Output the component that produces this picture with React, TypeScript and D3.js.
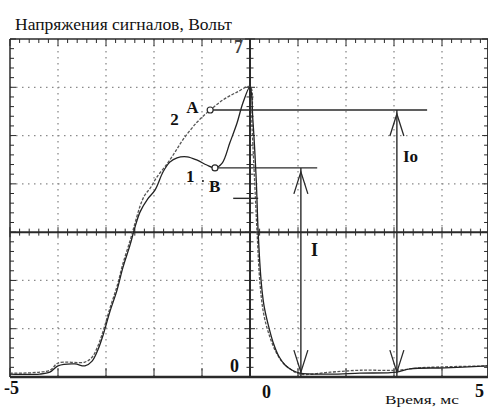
import React from "react";
import * as d3 from "d3";

// Time (ms) and voltage (V) samples of curve 1 (solid) and curve 2 (dashed)
const curve1Time = [-5, -4.38, -4.17, -4, -3.65, -3.44, -3.29, -3.17, -3.06, -2.92, -2.77, -2.65, -2.5, -2.4, -2.29, -2.13, -1.98, -1.81, -1.67, -1.52, -1.31, -1.1, -0.9, -0.73, -0.58, -0.42, -0.27, -0.15, 0, 0.06, 0.13, 0.17, 0.23, 0.29, 0.38, 0.48, 0.6, 0.73, 0.88, 1.04, 1.67, 2.29, 3.06, 3.33, 4.06, 4.96];
const curve1Volt = [0.06, 0.06, 0.1, 0.23, 0.27, 0.23, 0.33, 0.56, 0.87, 1.35, 1.8, 2.26, 2.73, 3.09, 3.42, 3.69, 3.87, 4.25, 4.45, 4.54, 4.56, 4.49, 4.39, 4.33, 4.43, 4.85, 5.26, 5.67, 6.01, 5.32, 4.08, 3.0, 2.01, 1.49, 1.08, 0.72, 0.43, 0.25, 0.14, 0.08, 0.06, 0.08, 0.1, 0.17, 0.19, 0.23];
const curve2Time = [-5, -4.17, -4, -3.44, -3.29, -3.17, -3.06, -2.92, -2.77, -2.65, -2.5, -2.4, -2.29, -2.19, -2.08, -1.94, -1.73, -1.56, -1.4, -1.1, -0.83, -0.56, -0.27, 0, 0.04, 0.1, 0.15, 0.21, 0.29, 0.42, 0.56, 0.69, 0.83, 1.04, 1.67, 2.29, 3.06, 3.54, 4.96];
const curve2Volt = [0.08, 0.14, 0.29, 0.31, 0.41, 0.64, 0.95, 1.42, 1.88, 2.34, 2.82, 3.17, 3.54, 3.77, 3.91, 4.14, 4.41, 4.66, 4.91, 5.28, 5.53, 5.74, 5.9, 6.01, 5.22, 3.98, 2.94, 1.91, 1.28, 0.81, 0.48, 0.29, 0.17, 0.06, 0.1, 0.14, 0.14, 0.19, 0.23];

// Marked points A (curve 2) and B (curve 1)
const pointNames = ["A", "B"];
const pointTime = [-0.83, -0.73];
const pointVolt = [5.53, 4.33];
const levelEnd = [3.69, 1.4];

// Measurement arrows I and Io
const arrowNames = ["I", "Io"];
const arrowTime = [1.06, 3.06];
const arrowTop = [4.33, 5.53];

const xTickLabels = ["-5", "0", "5"];
const yTickLabels = ["0", "7"];
const title = "Напряжения сигналов, Вольт";
const xTitle = "Время, мс";

const W = 488;
const H = 407;
const serif = "Liberation Serif, Times New Roman, DejaVu Serif, serif";
const ink = "#2a2a2a";

export default function App() {
  const x = d3.scaleLinear().domain([-5, 5]).range([10, 490]);
  const y = d3.scaleLinear().domain([0, 7]).range([377, 39]);

  const lineLin = d3
    .line<[number, number]>()
    .x((d) => x(d[0]))
    .y((d) => y(d[1]))
    .curve(d3.curveCatmullRom.alpha(0.5));

  const c1: [number, number][] = curve1Time.map((t, i) => [t, curve1Volt[i]]);
  const c2: [number, number][] = curve2Time.map((t, i) => [t, curve2Volt[i]]);

  const majorX = d3.range(-4, 5).filter((v) => v !== 0);
  const majorY = [1, 2, 4, 5, 6];
  const minorX = d3.range(-5, 5.001, 0.2);
  const minorY = d3.range(0, 7.001, 0.2);

  const ticks: JSX.Element[] = [];
  minorX.forEach((v, i) => {
    const major = Math.abs(v - Math.round(v)) < 1e-6;
    ticks.push(<line key={"t" + i} x1={x(v)} x2={x(v)} y1={y(7)} y2={y(7) + (major ? 7 : 4)} />);
    ticks.push(<line key={"h" + i} x1={x(v)} x2={x(v)} y1={y(3) - (major ? 5 : 3.5)} y2={y(3) + (major ? 5 : 3.5)} />);
    if (major) ticks.push(<line key={"b" + i} x1={x(v)} x2={x(v)} y1={y(0)} y2={y(0) - 9} />);
  });
  minorY.forEach((v, i) => {
    const major = Math.abs(v - Math.round(v)) < 1e-6;
    ticks.push(<line key={"l" + i} x1={x(-5)} x2={x(-5) + (major ? 6 : 4)} y1={y(v)} y2={y(v)} />);
    ticks.push(<line key={"r" + i} x1={x(4.96)} x2={x(4.96) - (major ? 6 : 4)} y1={y(v)} y2={y(v)} />);
    ticks.push(<line key={"v" + i} x1={x(0) - (major ? 5 : 3.5)} x2={x(0) + (major ? 5 : 3.5)} y1={y(v)} y2={y(v)} />);
  });

  const arrowHead = (tx: number, ty: number, dir: number, k: string) => (
    <path
      key={k}
      d={`M${tx - 7},${ty + dir * 22} L${tx},${ty} L${tx + 7},${ty + dir * 22}`}
      fill="none"
      stroke={ink}
      strokeWidth={1.3}
    />
  );

  return (
    <svg width={W} height={H} style={{ position: "absolute", left: 0, top: 0, background: "#fff" }}>
      <rect width={W} height={H} fill="#fff" />
      <g stroke="#8a8a8a" strokeWidth={1.3} strokeDasharray="1.5 4.5">
        {majorX.map((v) => (
          <line key={"gx" + v} x1={x(v)} x2={x(v)} y1={y(7)} y2={y(0)} />
        ))}
        {majorY.map((v) => (
          <line key={"gy" + v} x1={x(-5)} x2={x(4.96)} y1={y(v)} y2={y(v)} />
        ))}
      </g>
      <g stroke={ink} fill="none">
        <line x1={x(-5)} x2={x(4.96)} y1={y(7)} y2={y(7)} strokeWidth={1.5} />
        <line x1={x(-5)} x2={x(-5)} y1={y(7)} y2={y(0)} strokeWidth={1.5} />
        <line x1={x(4.96)} x2={x(4.96)} y1={y(7)} y2={y(0)} strokeWidth={2} />
        <line x1={x(-5)} x2={x(4.96)} y1={y(0)} y2={y(0)} strokeWidth={2.5} />
        <line x1={x(0)} x2={x(0)} y1={y(7)} y2={y(0)} strokeWidth={2} />
        <line x1={x(-5)} x2={x(4.96)} y1={y(3)} y2={y(3)} strokeWidth={2} />
      </g>
      <g stroke={ink} strokeWidth={1}>{ticks}</g>
      <path d={lineLin(c2) || ""} fill="none" stroke="#555" strokeWidth={1.3} strokeDasharray="3 1.5" />
      <path d={lineLin(c1) || ""} fill="none" stroke="#222" strokeWidth={1.3} />
      <g stroke={ink} strokeWidth={1.4}>
        {pointNames.map((n, i) => (
          <line key={"lv" + n} x1={x(pointTime[i])} x2={x(levelEnd[i])} y1={y(pointVolt[i])} y2={y(pointVolt[i])} />
        ))}
        {arrowNames.map((n, i) => (
          <line key={"ar" + n} x1={x(arrowTime[i])} x2={x(arrowTime[i])} y1={y(arrowTop[i])} y2={y(0)} />
        ))}
        <line x1={x(-0.35)} x2={x(0.17)} y1={y(3.7)} y2={y(3.7)} />
      </g>
      {arrowNames.map((n, i) => arrowHead(x(arrowTime[i]), y(arrowTop[i]) + 4, 1, "ah" + n))}
      {arrowNames.map((n, i) => arrowHead(x(arrowTime[i]), y(0.1), -1, "ab" + n))}
      {pointNames.map((n, i) => (
        <circle key={"pt" + n} cx={x(pointTime[i])} cy={y(pointVolt[i])} r={3} fill="#fff" stroke={ink} strokeWidth={1.2} />
      ))}
      <g fontFamily={serif} fill="#111" fontWeight="bold">
        <text x={x(pointTime[0]) - 24} y={y(pointVolt[0]) + 3} fontSize={17}>A</text>
        <text x={x(pointTime[0]) - 40} y={y(pointVolt[0]) + 15} fontSize={17}>2</text>
        <text x={x(pointTime[1]) - 29} y={y(pointVolt[1]) + 14} fontSize={17}>1</text>
        <circle cx={x(pointTime[1]) - 12} cy={y(pointVolt[1]) + 13} r={1} />
        <text x={x(pointTime[1]) - 6} y={y(pointVolt[1]) + 24} fontSize={17}>B</text>
        <text x={x(arrowTime[0]) + 10} y={y(2.5)} fontSize={18}>{arrowNames[0]}</text>
        <text x={x(arrowTime[1]) + 6} y={y(4.45)} fontSize={17}>{arrowNames[1]}</text>
        <text x={x(0) - 16} y={y(6.7)} fontSize={18} fill="#444">{yTickLabels[1]}</text>
        <text x={x(0) - 20} y={y(0.1)} fontSize={18}>{yTickLabels[0]}</text>
        <text x={x(-5) - 6} y={y(0) + 17} fontSize={18}>{xTickLabels[0]}</text>
        <text x={x(0) + 12} y={y(0) + 21} fontSize={18}>{xTickLabels[1]}</text>
        <text x={x(5) - 15} y={y(0) + 20} fontSize={18}>{xTickLabels[2]}</text>
      </g>
      <text x={15} y={30} fontFamily={serif} fontSize={16} fill="#111" textLength={217} lengthAdjust="spacingAndGlyphs">{title}</text>
      <text x={385} y={404} fontFamily={serif} fontSize={13} fill="#111" textLength={74} lengthAdjust="spacingAndGlyphs">{xTitle}</text>
    </svg>
  );
}
